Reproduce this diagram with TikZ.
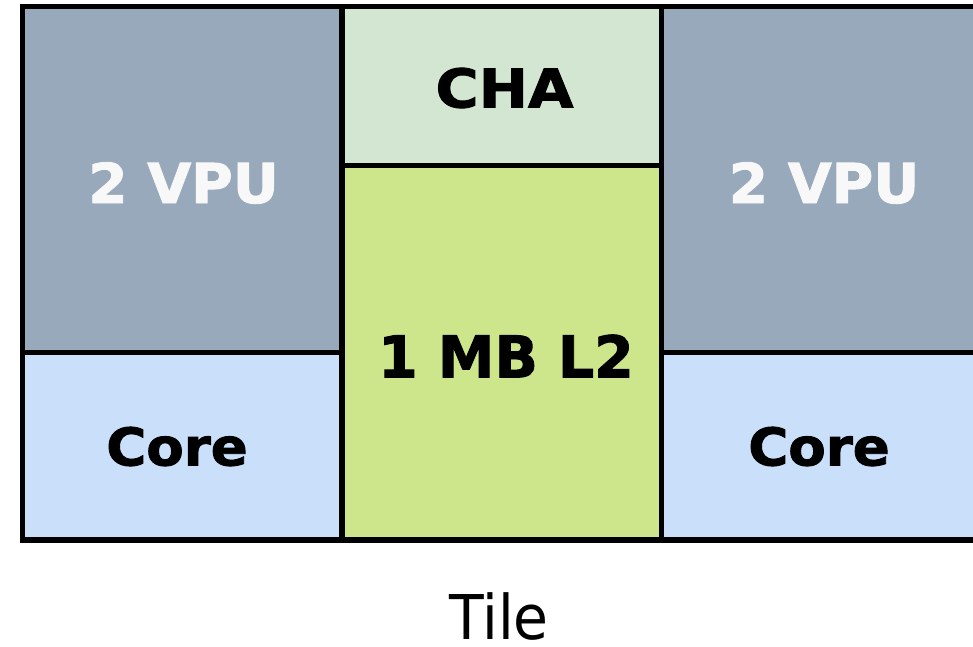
\documentclass[tikz,border=0pt]{standalone}
\usepackage{fontspec}
\setmainfont{DejaVu Sans}
\newfontfamily\heavyfont[FakeBold=1.6]{DejaVu Sans Bold}
\usepackage{graphicx}
\definecolor{vpufill}{HTML}{98A9BB}
\definecolor{corefill}{HTML}{C9DFFA}
\definecolor{chafill}{HTML}{D3E6D1}
\definecolor{ltwofill}{HTML}{CDE68B}
\definecolor{vputext}{HTML}{F8F8F8}
\tikzset{
  blk/.style={draw=black, line width=5.5pt, rectangle, inner sep=0pt, outer sep=0pt,
              minimum width=319.5pt},
  lbl/.style={inner sep=0pt, outer sep=0pt, anchor=center},
}
% horizontally stretched heavy label: size, x-stretch, text
\newcommand{\blabel}[3]{\scalebox{#2}[1]{\fontsize{#1}{#1}\selectfont\heavyfont #3}}
\begin{document}
\begin{tikzpicture}[x=1pt,y=-1pt]
\useasboundingbox (0,0) rectangle (973,646);
\clip (0,0) rectangle (973,646);

% tile blocks
\node[blk, fill=vpufill,  minimum height=346pt]   (vpuL)  at (182.25,179.5)  {};
\node[blk, fill=corefill, minimum height=187.5pt] (coreL) at (182.25,446.25) {};
\node[blk, fill=chafill,  minimum height=159pt]   (cha)   at (501.75,86)     {};
\node[blk, fill=ltwofill, minimum height=374.5pt] (ltwo)  at (501.75,352.75) {};
\node[blk, fill=vpufill,  minimum height=346pt]   (vpuR)  at (821.25,179.5)  {};
\node[blk, fill=corefill, minimum height=187.5pt] (coreR) at (821.25,446.25) {};

% block labels
\node[lbl, text=vputext] (vpuLt)  at (183.5,183) {\blabel{55}{1.03}{2 VPU}};
\node[lbl, text=vputext] (vpuRt)  at (824,183)   {\blabel{55}{1.03}{2 VPU}};
\node[lbl] (chat)   at (504.5,88)   {\blabel{53.5}{1.1}{CHA}};
\node[lbl] (ltwot)  at (506,356)    {\blabel{57.6}{0.99}{1 MB L2}};
\node[lbl] (coreLt) at (177,446.5)  {\blabel{52}{1.05}{Core}};
\node[lbl] (coreRt) at (819,446.5)  {\blabel{52}{1.05}{Core}};

% caption
\node[lbl] (tile) at (499,616.5) {\scalebox{0.92}[1]{\fontsize{61.7}{62}\selectfont Tile}};
\end{tikzpicture}
\end{document}
